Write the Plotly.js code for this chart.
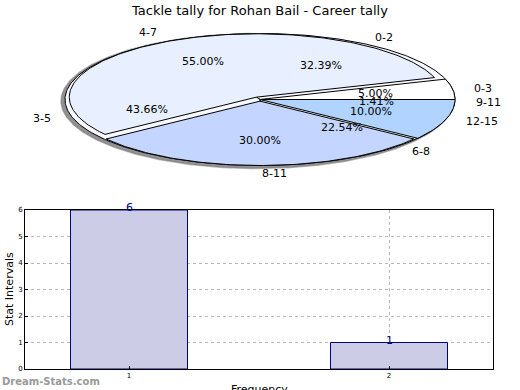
<!DOCTYPE html>
<html>
<head>
<meta charset="utf-8">
<script src="https://cdn.plot.ly/plotly-3.0.1.min.js"></script>
<style>html,body{margin:0;padding:0;background:#fff;}#chart{width:520px;height:390px;}</style>
</head>
<body>
<div id="chart"></div>
<script>
// ---- data ----
const titleText = 'Tackle tally for Rohan Bail - Career tally';
const pieALabels = ['0-3', '4-7', '8-11', '12-15'];
const pieAValues = [5.00, 55.00, 30.00, 10.00];
const pieAColors = ['#ffffff', '#e8f0ff', '#c4d6ff', '#b0d4ff'];
const pieBLabels = ['0-2', '3-5', '6-8', '9-11'];
const pieBValues = [32.39, 43.66, 22.54, 1.41];
const barX = [1, 2];
const barY = [6, 1];
const barTickLabels = ['1', '2'];
const yTicks = [0, 1, 2, 3, 4, 5, 6];

// ---- ellipse pie geometry (pixel space of an overlay axis) ----
const W = 520, H = 390;
const cx = 260, cy = 99.5, rx = 195, ry = 66;
const pieAExplode = [0, 0.04, 0.025, 0];
const pieAScale = [1, 0.96, 0.975, 1];

function slicePath(a0, a1, ex, sc) {
  const mid = (a0 + a1) / 2;
  const ox = cx + ex * rx * Math.cos(mid);
  const oy = cy - ex * ry * Math.sin(mid);
  const xs = [ox], ys = [oy];
  const n = Math.max(4, Math.ceil((a1 - a0) / (Math.PI / 180)));
  for (let i = 0; i <= n; i++) {
    const t = a0 + (a1 - a0) * i / n;
    xs.push(ox + sc * rx * Math.cos(t));
    ys.push(oy - sc * ry * Math.sin(t));
  }
  xs.push(ox); ys.push(oy);
  return {xs, ys, ox, oy, mid};
}

const traces = [];
const annotations = [];

// shadow
(function () {
  const xs = [], ys = [];
  for (let i = 0; i <= 360; i++) {
    const t = i * Math.PI / 180;
    xs.push(cx - 3 + 196 * Math.cos(t));
    ys.push(cy + 1.5 - 67.5 * Math.sin(t));
  }
  traces.push({type: 'scatter', mode: 'lines', x: xs, y: ys, fill: 'toself',
    fillcolor: 'rgba(110,110,110,0.75)', line: {color: 'rgba(120,120,120,0.5)', width: 1.5},
    xaxis: 'x2', yaxis: 'y2', hoverinfo: 'skip', showlegend: false});
})();

function addPie(labels, values, colors, explode, scale) {
  const total = values.reduce((a, b) => a + b, 0);
  let a = 0;
  labels.forEach((lab, i) => {
    const a0 = a, a1 = a + values[i] / total * 2 * Math.PI;
    a = a1;
    const ex = explode ? explode[i] : 0;
    const sc = scale ? scale[i] : 1;
    const p = slicePath(a0, a1, ex, sc);
    traces.push({type: 'scatter', mode: 'lines', x: p.xs, y: p.ys, fill: 'toself',
      fillcolor: colors ? colors[i] : '#f8f9ff',
      line: {color: '#000000', width: 1}, xaxis: 'x2', yaxis: 'y2',
      hoverinfo: 'skip', showlegend: false});
    const c = Math.cos(p.mid), s = Math.sin(p.mid);
    annotations.push({xref: 'x2', yref: 'y2', x: p.ox + 1.1 * rx * c, y: p.oy - 1.1 * ry * s,
      text: lab, showarrow: false, xanchor: c >= -1e-9 ? 'left' : 'right', yanchor: 'middle',
      font: {family: 'DejaVu Sans', size: 11, color: '#000'}});
    annotations.push({xref: 'x2', yref: 'y2', x: p.ox + 0.6 * rx * c, y: p.oy - 0.6 * ry * s,
      text: values[i].toFixed(2) + '%', showarrow: false, xanchor: 'center', yanchor: 'middle',
      font: {family: 'DejaVu Sans', size: 11, color: '#000'}});
  });
}

addPie(pieBLabels, pieBValues, null, null, null);
addPie(pieALabels, pieAValues, pieAColors, pieAExplode, pieAScale);

// ---- bar chart ----
traces.push({type: 'bar', x: barX, y: barY, width: 0.45,
  marker: {color: '#ccccE6', line: {color: '#000080', width: 1}},
  xaxis: 'x', yaxis: 'y', hoverinfo: 'skip', showlegend: false});
barX.forEach((xv, i) => {
  annotations.push({xref: 'x', yref: 'y', x: xv, y: barY[i], text: String(barY[i]),
    showarrow: false, yanchor: 'bottom', xanchor: 'center', yshift: -6,
    font: {family: 'DejaVu Sans', size: 11, color: '#000080'}});
});

annotations.push({xref: 'paper', yref: 'paper', x: 259 / W, y: 1 - 10 / H, text: titleText,
  showarrow: false, xanchor: 'center', yanchor: 'middle',
  font: {family: 'DejaVu Sans', size: 13, color: '#000'}});
annotations.push({xref: 'paper', yref: 'paper', x: 9 / W, y: 1 - 289 / H, text: 'Stat Intervals',
  textangle: -90, showarrow: false, xanchor: 'center', yanchor: 'middle',
  font: {family: 'DejaVu Sans', size: 11, color: '#000'}});
annotations.push({xref: 'paper', yref: 'paper', x: 259 / W, y: 1 - 389 / H, text: 'Frequency',
  showarrow: false, xanchor: 'center', yanchor: 'middle',
  font: {family: 'DejaVu Sans', size: 11, color: '#000'}});
annotations.push({xref: 'paper', yref: 'paper', x: 0, y: 1 - 381 / H, text: '<b>Dream-Stats.com</b>',
  showarrow: false, xanchor: 'left', yanchor: 'middle',
  font: {family: 'DejaVu Sans', size: 10, color: '#999999'}});

const layout = {
  width: W, height: H,
  margin: {l: 0, r: 0, t: 0, b: 0},
  paper_bgcolor: '#ffffff', plot_bgcolor: 'rgba(0,0,0,0)',
  showlegend: false,
  xaxis: {domain: [25 / W, 493 / W], range: [0.6, 2.4], tickvals: barX, ticktext: barTickLabels,
    showgrid: true, gridcolor: '#b8b8b8', griddash: 'dot', gridwidth: 1,
    showline: true, mirror: true, linecolor: '#000', linewidth: 1,
    ticks: 'inside', ticklen: 3, tickcolor: '#000', zeroline: false,
    tickfont: {family: 'DejaVu Sans', size: 7, color: '#000'}, fixedrange: true},
  yaxis: {domain: [21 / H, 180 / H], range: [0, 6], tickvals: yTicks,
    showgrid: true, gridcolor: '#b8b8b8', griddash: 'dot', gridwidth: 1,
    showline: true, mirror: true, linecolor: '#000', linewidth: 1,
    ticks: 'inside', ticklen: 3, tickcolor: '#000', zeroline: false,
    tickfont: {family: 'DejaVu Sans', size: 7, color: '#000'}, fixedrange: true},
  xaxis2: {domain: [0, 1], range: [0, W], visible: false, anchor: 'y2', fixedrange: true},
  yaxis2: {domain: [0, 1], range: [H, 0], visible: false, anchor: 'x2', fixedrange: true},
  annotations: annotations
};

Plotly.newPlot('chart', traces, layout, {displayModeBar: false, staticPlot: true});
</script>
</body>
</html>
